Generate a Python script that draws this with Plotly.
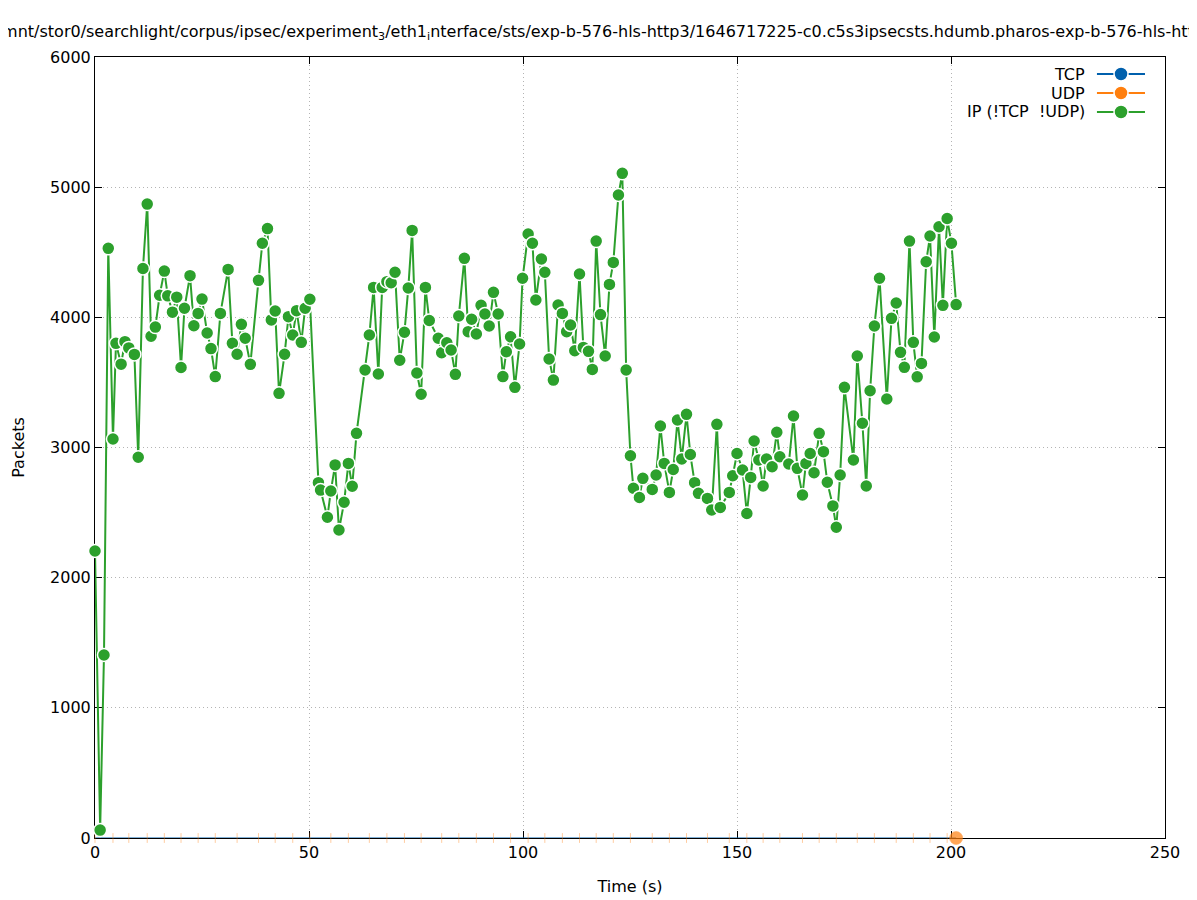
import plotly.graph_objects as go

# IP (!TCP !UDP) packets per sample
ip_time = [
    0.0, 1.2, 2.1, 3.1, 4.2, 4.9, 6.1, 7.0, 7.9, 9.2, 10.1, 11.2, 12.2, 13.1, 14.1, 15.1,
    16.2, 17.0, 18.1, 19.1, 20.1, 20.9, 22.2, 23.1, 24.1, 25.0, 26.2, 27.1, 28.1, 29.3,
    31.1, 32.1, 33.2, 34.2, 35.1, 36.3, 38.2, 39.1, 40.3, 41.2, 42.1, 43.0, 44.3, 45.2,
    46.2, 47.1, 48.2, 49.1, 50.2, 52.2, 52.7, 54.3, 55.1, 56.1, 57.0, 58.2, 59.2, 60.1,
    61.1, 63.1, 64.1, 65.1, 66.2, 67.1, 68.2, 69.2, 70.1, 71.2, 72.3, 73.2, 74.1, 75.2,
    76.2, 77.2, 78.1, 80.2, 81.0, 82.2, 83.2, 84.2, 85.0, 86.3, 87.2, 88.0, 89.1, 90.2,
    91.1, 92.1, 93.1, 94.2, 95.3, 96.1, 97.1, 98.1, 99.2, 99.9, 101.2, 102.2, 103.0,
    104.3, 105.1, 106.1, 107.1, 108.2, 109.2, 110.2, 111.1, 112.1, 113.2, 114.1, 115.3,
    116.2, 117.1, 118.1, 119.2, 120.2, 121.1, 122.3, 123.2, 124.1, 125.1, 125.8, 127.2,
    128.0, 130.2, 131.1, 132.1, 133.0, 134.2, 135.1, 136.1, 137.1, 138.2, 139.1, 140.1,
    141.0, 143.1, 144.1, 145.3, 146.1, 148.2, 149.0, 150.0, 151.3, 152.3, 153.2, 154.0,
    155.1, 156.1, 156.9, 158.2, 159.3, 160.0, 162.1, 163.2, 164.1, 165.3, 166.1, 167.1,
    168.0, 169.2, 170.2, 171.1, 172.4, 173.2, 174.1, 175.1, 177.2, 178.1, 179.3, 180.2,
    181.1, 182.1, 183.3, 185.0, 186.1, 187.2, 188.2, 189.1, 190.3, 191.2, 192.1, 193.1,
    194.2, 195.1, 196.1, 197.2, 198.1, 199.1, 200.1, 201.2,
]
ip_packets = [
    2205, 61, 1406, 4530, 3065, 3800, 3640, 3813, 3765, 3715, 2925, 4375, 4870, 3855, 3925, 4170,
    4355, 4165, 4040, 4155, 3615, 4070, 4320, 3935, 4030, 4140, 3880, 3760, 3545, 4030,
    4368, 3800, 3716, 3946, 3839, 3639, 4284, 4569, 4682, 3980, 4049, 3416, 3716, 4005,
    3864, 4051, 3808, 4070, 4139, 2730, 2673, 2464, 2666, 2866, 2366, 2579, 2878, 2702,
    3109, 3595, 3864, 4230, 3565, 4230, 4274, 4266, 4346, 3670, 3885, 4225, 4668, 3572,
    3409, 4230, 3976, 3839, 3728, 3805, 3749, 3562, 4010, 4453, 3890, 3985, 3872, 4092,
    4026, 3933, 4192, 4026, 3545, 3736, 3851, 3462, 3795, 4300, 4640, 4569, 4133,
    4448, 4346, 3680, 3518, 4095, 4030, 3890, 3941, 3743, 4333, 3769, 3739,
    3600, 4586, 4021, 3703, 4253, 4422, 4940, 5106, 3595, 2937, 2687, 2616,
    2763, 2678, 2789, 3165, 2878, 2655, 2831, 3211, 2912, 3255, 2946, 2730,
    2648, 2609, 2520, 3178, 2540, 2655, 2783, 2954, 2827, 2493, 2770, 3050,
    2904, 2704, 2912, 2852, 3117, 2929, 2873, 3242, 2840, 2635, 2878, 2954,
    2806, 3109, 2968, 2733, 2551, 2387, 2789, 3462, 2904, 3703, 3186, 2704,
    3436, 3933, 4300, 3373, 3992, 4110, 3731, 3616, 4586, 3808, 3543, 3646,
    4427, 4625, 3849, 4696, 4092, 4759, 4569, 4098,
]
# TCP and UDP stay at zero for the whole capture
tcp_time = ip_time
tcp_packets = [0] * len(ip_time)
udp_time = ip_time
udp_packets = [0] * len(ip_time)

series_names = ["TCP", "UDP", "IP (!TCP  !UDP)"]
series_colors = ["#0060ad", "#ff7f0e", "#2ca02c"]

x_ticks = [0, 50, 100, 150, 200, 250]
y_ticks = [0, 1000, 2000, 3000, 4000, 5000, 6000]

title = ("/mnt/stor0/searchlight/corpus/ipsec/experiment<sub>3</sub>/eth1<sub>i</sub>nterface/sts/"
         "exp-b-576-hls-http3/1646717225-c0.c5s3ipsecsts.hdumb.pharos-exp-b-576-hls-http3")

FONT = "DejaVu Sans, sans-serif"
FS = 16

fig = go.Figure()

fig.add_trace(go.Scatter(x=tcp_time, y=tcp_packets, mode="lines", cliponaxis=False,
                         line=dict(color=series_colors[0], width=1), showlegend=False))

# gnuplot leaves small dash fragments on the zero line and one point at the end
n = len(udp_time)
udp_sym = ["line-ns" if i % 4 == 0 else "circle" for i in range(n)]
udp_size = [7 if i % 4 == 0 else 0 for i in range(n)]
udp_sym[-1], udp_size[-1] = "circle", 13
fig.add_trace(go.Scatter(x=udp_time, y=udp_packets, mode="markers", cliponaxis=False,
                         marker=dict(symbol=udp_sym, size=udp_size, color=series_colors[1],
                                     line=dict(color="rgba(255,127,14,0.55)", width=1)),
                         showlegend=False))

fig.add_trace(go.Scatter(x=ip_time, y=ip_packets, mode="lines+markers", cliponaxis=False,
                         line=dict(color=series_colors[2], width=2),
                         marker=dict(size=13, color=series_colors[2],
                                     line=dict(color="white", width=1.5)),
                         showlegend=False))

# gnuplot-style key: text on the left, sample on the right
shapes = []
annotations = []
for i, (name, col) in enumerate(zip(series_names, series_colors)):
    yk = 0.9782 - i * 0.0243
    annotations.append(dict(x=0.927, y=yk, xref="paper", yref="paper", text=name,
                            showarrow=False, xanchor="right", yanchor="middle",
                            font=dict(family=FONT, size=FS, color="black")))
    shapes.append(dict(type="line", xref="paper", yref="paper", x0=0.9364, x1=0.9813,
                       y0=yk, y1=yk, line=dict(color=col, width=2)))
    shapes.append(dict(type="circle", xref="paper", yref="paper", xsizemode="pixel",
                       ysizemode="pixel", xanchor=0.9589, yanchor=yk,
                       x0=-7, x1=7, y0=-7, y1=7, fillcolor=col,
                       line=dict(color="white", width=1.5)))

axis_common = dict(showline=True, linecolor="black", linewidth=1, mirror="ticks",
                   ticks="inside", ticklen=7, tickcolor="black", showgrid=True,
                   gridcolor="#b4b4b4", griddash="1px,3px", gridwidth=1, zeroline=False,
                   tickfont=dict(family=FONT, size=FS, color="black"),
                   layer="below traces", automargin=False)

# page body has an 8px margin, so the figure is 8px smaller than the window
fig.update_layout(
    width=1189, height=892,
    paper_bgcolor="white", plot_bgcolor="white",
    margin=dict(l=87, r=32, t=49, b=62),
    title=dict(text=title, x=0.5025, xanchor="center", y=0.9742, yanchor="middle",
               font=dict(family=FONT, size=FS, color="black")),
    xaxis=dict(range=[0, 250], tickvals=x_ticks,
               title=dict(text="Time (s)", font=dict(family=FONT, size=FS, color="black"),
                          standoff=19),
               **axis_common),
    yaxis=dict(range=[0, 6000], tickvals=y_ticks,
               title=dict(text="Packets", font=dict(family=FONT, size=FS, color="black"),
                          standoff=21),
               **axis_common),
    shapes=shapes,
    annotations=annotations,
)

fig.write_html("out.html")
